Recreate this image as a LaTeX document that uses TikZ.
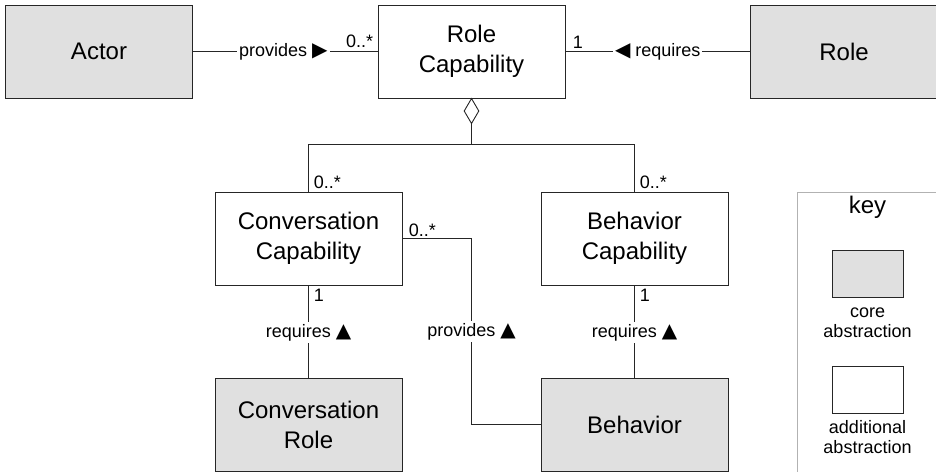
\documentclass[tikz,border=0pt]{standalone}
\usepackage{fontspec}
\setmainfont{Liberation Sans}
\newfontfamily\glyphfont{DejaVu Sans}
\newcommand{\tri}[1]{{\glyphfont\fontsize{20}{20}\selectfont\raisebox{-0.5pt}{\symbol{"#1}}}}
\begin{document}
\begin{tikzpicture}[x=1pt,y=-1pt,
  line width=0.9pt,
  cls/.style={draw=black!85, minimum width=187pt, minimum height=93pt,
    inner sep=0pt, align=center, font=\fontsize{24}{30}\selectfont},
  core/.style={cls, fill=black!12},
  extra/.style={cls, fill=white},
  assoc/.style={draw=black!85},
  lbl/.style={font=\fontsize{18}{20}\selectfont, inner sep=1pt},
  onwire/.style={lbl, fill=white, inner sep=2pt},
  swatch/.style={draw=black!85, minimum width=71pt, minimum height=47pt, inner sep=0pt},
  keytext/.style={font=\fontsize{18}{20}\selectfont, align=center, inner sep=0pt}]
\clip (0,0) rectangle (936,471);
\useasboundingbox (0,0) rectangle (936,471);

% classes
\node[core]  (actor)  at (99,51.5)    {Actor};
\node[extra] (rcap)   at (471.5,51.5) {Role\\Capability};
\node[core]  (role)   at (844,51.5)   {Role};
\node[extra] (ccap)   at (308.5,238.5) {Conversation\\Capability};
\node[extra] (bcap)   at (634.5,238.5) {Behavior\\Capability};
\node[core]  (crole)  at (308.5,424.5) {Conversation\\Role};
\node[core]  (beh)    at (634.5,424.5) {Behavior};

% top associations
\draw[assoc] (actor.east) -- node[onwire, pos=0.49] (prov) {provides \tri{25B6}} (rcap.west);
\draw[assoc] (rcap.east) -- node[onwire, pos=0.50] (req) {\tri{25C0} requires} (role.west);
\node[lbl, anchor=south east] (m1) at ([xshift=-3pt,yshift=2pt]rcap.west) {0..*};
\node[lbl, anchor=south west] (m2) at ([xshift=6pt,yshift=2pt]rcap.east) {1};

% aggregation diamond and bus
\coordinate (d0) at (471.5,98.5);
\coordinate (dl) at (464.2,111);
\coordinate (db) at (471.5,123.5);
\coordinate (dr) at (478.8,111);
\draw[assoc, fill=white] (d0) -- (dl) -- (db) -- (dr) -- cycle;
\coordinate (bus) at (471.5,144.5);
\draw[assoc] (db) -- (bus);
\draw[assoc] (bus) -| (ccap.north);
\draw[assoc] (bus) -| (bcap.north);
\node[lbl, anchor=south west] (m3) at ([xshift=4pt,yshift=1pt]ccap.north) {0..*};
\node[lbl, anchor=south west] (m4) at ([xshift=4pt,yshift=1pt]bcap.north) {0..*};

% lower associations
\draw[assoc] (ccap.south) -- node[onwire, pos=0.51] {requires \tri{25B2}} (crole.north);
\draw[assoc] (bcap.south) -- node[onwire, pos=0.51] {requires \tri{25B2}} (beh.north);
\node[lbl, anchor=north west] (m5) at ([xshift=4pt,yshift=-2pt]ccap.south) {1};
\node[lbl, anchor=north west] (m6) at ([xshift=4pt,yshift=-2pt]bcap.south) {1};

\coordinate (pv1) at (471.5,238.5);
\coordinate (pv2) at (471.5,424.5);
\draw[assoc] (ccap.east) -- (pv1) -- node[onwire, pos=0.5] {provides \tri{25B2}} (pv2) -- (beh.west);
\node[lbl, anchor=south west] (m7) at ([xshift=5pt,yshift=0pt]ccap.east) {0..*};

% key
\node[draw=black!30, line width=0.8pt, minimum width=160pt, minimum height=300pt, anchor=north west, inner sep=0pt] (keybox) at (797,192) {};
\node[font=\fontsize{24}{28}\selectfont, inner sep=0pt] (keyt) at (867.5,207) {key};
\node[swatch, fill=black!12] (ks1) at (867.5,273.5) {};
\node[keytext] (kt1) at ([yshift=-25pt]ks1.south) {core\\abstraction};
\node[swatch, fill=white] (ks2) at (867.5,390) {};
\node[keytext] (kt2) at ([yshift=-23pt]ks2.south) {additional\\abstraction};
\end{tikzpicture}
\end{document}
